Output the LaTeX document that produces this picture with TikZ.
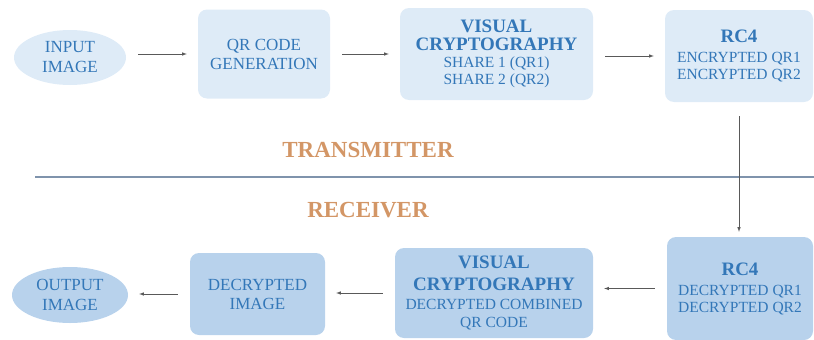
\documentclass[tikz,border=0pt]{standalone}
\usepackage{fontspec}
\setmainfont{Liberation Serif}
\usepackage{tikz}
\usepackage{xcolor}
\usetikzlibrary{positioning, calc, shapes.geometric}

\definecolor{lightbox}{HTML}{DEEBF7}
\definecolor{darkbox}{HTML}{B8D2EC}
\definecolor{boxtext}{HTML}{3377B8}
\definecolor{sidetext}{HTML}{D39666}
\definecolor{divider}{HTML}{7F93AC}

\tikzset{
  stage/.style={rectangle, rounded corners=9pt, inner sep=0pt, align=center,
    text=boxtext, font=\fontsize{15.5}{17}\selectfont},
  bigstage/.style={stage, font=\fontsize{17}{19}\selectfont},
  oval/.style={ellipse, inner sep=0pt, align=center, text=boxtext,
    font=\fontsize{17}{20}\selectfont},
  flow/.style={-latex, gray!70!black, line width=0.6pt, shorten <=12pt, shorten >=11pt},
  side/.style={text=sidetext, font=\bfseries\fontsize{23}{25}\selectfont}
}
\newcommand{\headline}[1]{{\bfseries\fontsize{19}{19}\selectfont #1}}

\begin{document}
\begin{tikzpicture}[x=1pt, y=-1pt]
    \useasboundingbox (0,0) rectangle (814,340);
    % sending side
    \node[oval, fill=lightbox, minimum width=112pt, minimum height=55pt] (in) at (70,57.5) {INPUT\\IMAGE};
    \node[bigstage, fill=lightbox, minimum width=132pt, minimum height=89pt] (qr) at (264,54) {QR CODE\\GENERATION};
    \node[stage, fill=lightbox, minimum width=193pt, minimum height=92pt] (vc) at (496.5,54) {\headline{VISUAL}\\[1pt]\headline{CRYPTOGRAPHY}\\SHARE 1 (QR1)\\SHARE 2 (QR2)};
    \node[stage, fill=lightbox, minimum width=148pt, minimum height=92pt] (enc) at (739,56) {\headline{RC4}\\[3pt]ENCRYPTED QR1\\ENCRYPTED QR2};
    % receiving side
    \node[stage, fill=darkbox, minimum width=146pt, minimum height=103pt] (dec) at (740,288.5) {\headline{RC4}\\[3pt]DECRYPTED QR1\\DECRYPTED QR2};
    \node[stage, fill=darkbox, minimum width=198pt, minimum height=90pt] (vcr) at (494,293) {\headline{VISUAL}\\[5pt]\headline{CRYPTOGRAPHY}\\[2pt]DECRYPTED COMBINED\\[1pt]QR CODE};
    \node[bigstage, fill=darkbox, minimum width=135pt, minimum height=82pt] (img) at (257.5,294) {DECRYPTED\\IMAGE};
    \node[oval, fill=darkbox, minimum width=116pt, minimum height=56pt] (out) at (70,295) {OUTPUT\\IMAGE};
    % divider between both sides
    \coordinate (dl) at (35,177);
    \coordinate (dr) at (814,177);
    \draw[divider, line width=1.2pt] (dl) -- (dr);
    \node[side] (tx) at (368,150) {TRANSMITTER};
    \node[side] (rx) at (368,210) {RECEIVER};
    % arrows, kept level with the box they point to
    \draw[flow] (in.east |- qr) -- (qr.west);
    \draw[flow] (qr.east |- vc) -- (vc.west);
    \draw[flow] (vc.east |- enc) -- (enc.west);
    \draw[flow, shorten <=14pt, shorten >=5pt] (enc.south) -- (enc.south |- dec.north);
    \draw[flow] (dec.west) -- (dec.west -| vcr.east);
    \draw[flow] (vcr.west) -- (vcr.west -| img.east);
    \draw[flow] (img.west) -- (img.west -| out.east);
\end{tikzpicture}
\end{document}
